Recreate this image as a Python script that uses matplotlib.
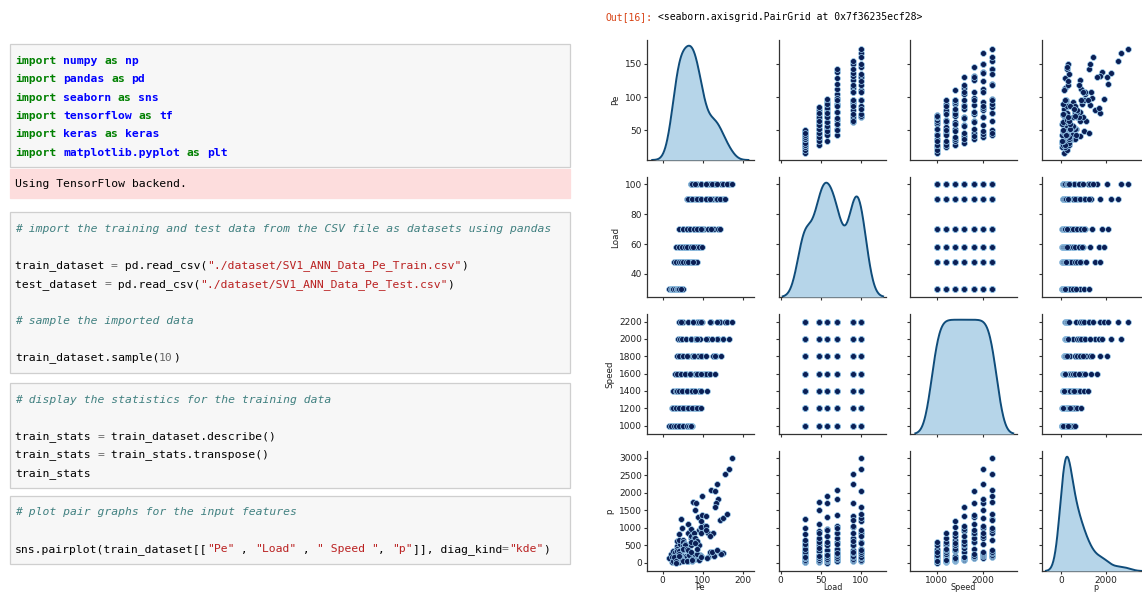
import numpy as np
import matplotlib
matplotlib.use("Agg")
import matplotlib.pyplot as plt
from matplotlib.patches import Rectangle

# ---------------- data ----------------
LOAD_LEVELS = [30, 48, 58, 70, 90, 100]
SPEED_LEVELS = [1000, 1200, 1400, 1600, 1800, 2000, 2200]
REPS = 3  # samples per (load, speed) pair, ordered speed by speed

pe_load30 = [24, 15, 20, 30, 24, 27, 27, 33, 36, 41, 31, 37, 45, 36, 41, 39, 44, 48, 50, 42, 46]
pe_load48 = [42, 28, 36, 34, 45, 52, 60, 40, 52, 46, 58, 68, 74, 52, 64, 58, 70, 80, 85, 64, 76]
pe_load58 = [34, 44, 52, 63, 42, 55, 48, 62, 72, 82, 56, 70, 62, 78, 88, 93, 70, 84, 76, 90, 97]
pe_load70 = [60, 42, 52, 50, 66, 78, 90, 60, 78, 68, 88, 104, 128, 78, 98, 86, 112, 138, 142, 95, 120]
pe_load90 = [62, 66, 70, 90, 64, 80, 74, 92, 95, 113, 86, 108, 96, 125, 132, 150, 108, 136, 118, 142, 155]
pe_load100 = [73, 70, 72, 74, 86, 96, 110, 82, 95, 96, 118, 130, 145, 108, 130, 124, 150, 166, 135, 160, 173]

p_load30 = [20, 130, 250, 35, 160, 340, 70, 210, 470, 85, 320, 620, 140, 390, 820, 150, 540, 1010, 180, 640, 1250]
p_load48 = [25, 170, 330, 55, 230, 500, 75, 350, 660, 130, 430, 900, 145, 590, 1120, 200, 700, 1520, 210, 850, 1740]
p_load58 = [10, 190, 370, 65, 250, 540, 95, 360, 780, 120, 500, 960, 180, 600, 1300, 220, 780, 1700, 240, 930, 1920]
p_load70 = [45, 210, 400, 60, 300, 590, 110, 390, 840, 150, 540, 1060, 185, 700, 1360, 250, 860, 1820, 270, 1010, 2080]
p_load90 = [55, 240, 510, 85, 360, 700, 125, 500, 1020, 170, 620, 1340, 205, 850, 1720, 280, 1060, 2240, 310, 1230, 2540]
p_load100 = [65, 300, 600, 95, 400, 860, 135, 580, 1190, 175, 780, 1600, 250, 950, 2050, 310, 1280, 2680, 360, 1400, 3000]

VARIABLES = ["Pe", "Load", "Speed", "p"]

# build the table
pe_lists = [pe_load30, pe_load48, pe_load58, pe_load70, pe_load90, pe_load100]
p_lists = [p_load30, p_load48, p_load58, p_load70, p_load90, p_load100]
rows = {"Pe": [], "Load": [], "Speed": [], "p": []}
for li, L in enumerate(LOAD_LEVELS):
    for si, S in enumerate(SPEED_LEVELS):
        for r in range(REPS):
            k = si * REPS + r
            rows["Load"].append(L)
            rows["Speed"].append(S)
            rows["Pe"].append(pe_lists[li][k])
            rows["p"].append(p_lists[li][k])
data = {k: np.array(v, dtype=float) for k, v in rows.items()}

# ---------------- figure ----------------
W, H = 1142, 592
fig = plt.figure(figsize=(W / 100, H / 100), dpi=100)
fig.patch.set_facecolor("white")


def rect(x0, y0, x1, y1, fc, ec):
    fig.add_artist(Rectangle((x0 / W, 1 - y1 / H), (x1 - x0) / W, (y1 - y0) / H,
                             transform=fig.transFigure, facecolor=fc,
                             edgecolor=ec, linewidth=0.9))


# notebook cells
CELL_FC, CELL_EC = "#f7f7f7", "#cfcfcf"
rect(10, 44, 570, 167, CELL_FC, CELL_EC)
rect(10, 169, 570, 198, "#fddddd", "#fddddd")
rect(10, 212, 570, 373, CELL_FC, CELL_EC)
rect(10, 383, 570, 488, CELL_FC, CELL_EC)
rect(10, 496, 570, 564, CELL_FC, CELL_EC)

MONO = "DejaVu Sans Mono"
FS = 8.2
CW = 0.6021 * FS * 100 / 72  # char width in px
STY = {
    "kw": dict(color="#008000", fontweight="bold"),
    "ns": dict(color="#0000ff", fontweight="bold"),
    "n": dict(color="#000000"),
    "c": dict(color="#408080", fontstyle="italic"),
    "s": dict(color="#ba2121"),
    "o": dict(color="#666666"),
}


def code_line(y, segs, x0=15, fs=FS, cw=CW):
    pos = 0
    for txt, st in segs:
        fig.text((x0 + pos * cw) / W, 1 - y / H, txt, family=MONO, fontsize=fs,
                 va="center", ha="left", **STY[st])
        pos += len(txt)


imports = [("numpy", "np"), ("pandas", "pd"), ("seaborn", "sns"),
           ("tensorflow", "tf"), ("keras", "keras"), ("matplotlib.pyplot", "plt")]
for i, (mod, al) in enumerate(imports):
    code_line(61 + i * 18.3, [("import", "kw"), (" ", "n"), (mod, "ns"), (" ", "n"),
                              ("as", "kw"), (" ", "n"), (al, "ns")])
code_line(184, [("Using TensorFlow backend.", "n")])

code_line(229, [("# import the training and test data from the CSV file as datasets using pandas", "c")])
code_line(266, [("train_dataset ", "n"), ("=", "o"), (" pd.read_csv(", "n"),
                ('"./dataset/SV1_ANN_Data_Pe_Train.csv"', "s"), (")", "n")])
code_line(284.5, [("test_dataset ", "n"), ("=", "o"), (" pd.read_csv(", "n"),
                  ('"./dataset/SV1_ANN_Data_Pe_Test.csv"', "s"), (")", "n")])
code_line(321, [("# sample the imported data", "c")])
code_line(358, [("train_dataset.sample(", "n"), ("10", "o"), (")", "n")])

code_line(400, [("# display the statistics for the training data", "c")])
code_line(437, [("train_stats ", "n"), ("=", "o"), (" train_dataset.describe()", "n")])
code_line(455, [("train_stats ", "n"), ("=", "o"), (" train_stats.transpose()", "n")])
code_line(473.5, [("train_stats", "n")])

code_line(512, [("# plot pair graphs for the input features", "c")])
code_line(549.5, [("sns.pairplot(train_dataset[[", "n"), ('"Pe"', "s"), (" , ", "n"),
                  ('"Load"', "s"), (" , ", "n"), ('" Speed "', "s"), (", ", "n"),
                  ('"p"', "s"), ("]], diag_kind", "n"), ("=", "o"), ('"kde"', "s"),
                  (")", "n")])

# output prompt
fig.text(606 / W, 1 - 17 / H, "Out[16]:", family=MONO, fontsize=7.0, color="#d84315",
         va="center", ha="left")
fig.text(658 / W, 1 - 17 / H, "<seaborn.axisgrid.PairGrid at 0x7f36235ecf28>",
         family=MONO, fontsize=7.0, color="#000000", va="center", ha="left")

# ---------------- pair grid ----------------
COL_LEFT = [647, 779, 910, 1042]
COL_W = 107
ROW_TOP = [40, 177, 314, 451]
ROW_H = 120

XLIM = {"Pe": (-39, 228), "Load": (-2, 131), "Speed": (427, 2740), "p": (-866, 3920)}
YLIM = {"Pe": (5, 186), "Load": (24.5, 105), "Speed": (904, 2288), "p": (-229, 3190)}
XTICKS = {"Pe": [0, 100, 200], "Load": [0, 50, 100], "Speed": [1000, 2000], "p": [0, 2000]}
YTICKS = {"Pe": [50, 100, 150], "Load": [40, 60, 80, 100],
          "Speed": [1000, 1200, 1400, 1600, 1800, 2000, 2200],
          "p": [0, 500, 1000, 1500, 2000, 2500, 3000]}

DOT_FC, DOT_EC = "#0b1f55", "#9fd0f0"
KDE_LINE, KDE_FILL = "#0f4c7a", "#b6d5e9"
SPINE = "#333333"


def kde(vals):
    n = len(vals)
    bw = vals.std(ddof=1) * n ** (-0.2)
    grid = np.linspace(vals.min() - 3 * bw, vals.max() + 3 * bw, 200)
    dens = np.exp(-0.5 * ((grid[:, None] - vals[None, :]) / bw) ** 2).sum(1)
    dens /= n * bw * np.sqrt(2 * np.pi)
    return grid, dens


for i, vy in enumerate(VARIABLES):
    for j, vx in enumerate(VARIABLES):
        ax = fig.add_axes([COL_LEFT[j] / W, 1 - (ROW_TOP[i] + ROW_H) / H,
                           COL_W / W, ROW_H / H])
        ax.set_facecolor("none")
        if i == j:
            tw = ax.twinx()
            g, d = kde(data[vx])
            tw.fill_between(g, 0, d, color=KDE_FILL, linewidth=0)
            tw.plot(g, d, color=KDE_LINE, lw=1.4)
            tw.set_ylim(0, d.max() * 1.05)
            tw.yaxis.set_visible(False)
            for sp in tw.spines.values():
                sp.set_visible(False)
        else:
            ax.scatter(data[vx], data[vy], s=18, facecolor=DOT_FC, edgecolor=DOT_EC,
                       linewidths=0.5, zorder=3)
        ax.set_xlim(XLIM[vx])
        ax.set_ylim(YLIM[vy])
        ax.set_xticks(XTICKS[vx])
        ax.set_yticks(YTICKS[vy])
        for s in ("top", "right"):
            ax.spines[s].set_visible(False)
        for s in ("left", "bottom"):
            ax.spines[s].set_color(SPINE)
            ax.spines[s].set_linewidth(0.9)
        ax.tick_params(length=2.5, width=0.8, pad=1.2, labelsize=6.5,
                       color=SPINE, labelcolor="#222222")
        if j > 0:
            ax.tick_params(labelleft=False)
        else:
            ax.set_ylabel(vy, fontsize=6.3, labelpad=3, color="#222222")
        if i < 3:
            ax.tick_params(labelbottom=False)
        else:
            ax.set_xlabel(vx, fontsize=5.8, labelpad=-1.5, color="#222222")

fig.savefig("out.png", dpi=100)
